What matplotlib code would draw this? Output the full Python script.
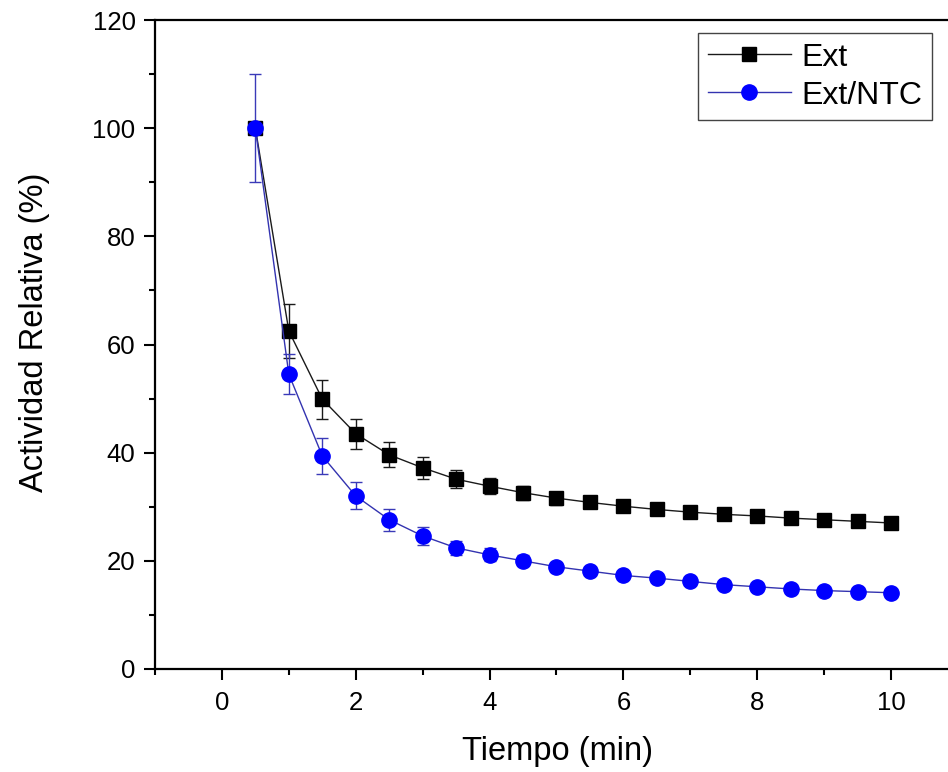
import matplotlib
matplotlib.use("Agg")
import matplotlib.pyplot as plt
from matplotlib.ticker import MultipleLocator
from matplotlib.lines import Line2D

plt.rcParams['font.family'] = ['Liberation Sans', 'DejaVu Sans']

tiempo = [0.5, 1.0, 1.5, 2.0, 2.5, 3.0, 3.5, 4.0, 4.5, 5.0, 5.5, 6.0, 6.5, 7.0,
          7.5, 8.0, 8.5, 9.0, 9.5, 10.0]
ext = [100.0, 62.5, 49.9, 43.5, 39.6, 37.2, 35.1, 33.8, 32.6, 31.6, 30.8, 30.1,
       29.5, 29.0, 28.6, 28.3, 27.9, 27.6, 27.3, 27.0]
ext_err = [0.0, 5.0, 3.6, 2.8, 2.3, 2.0, 1.7, 1.5, 1.3, 1.2, 1.0, 0.9,
           0.8, 0.7, 0.6, 0.6, 0.5, 0.5, 0.5, 0.5]
ntc = [100.0, 54.5, 39.4, 32.0, 27.6, 24.6, 22.4, 21.1, 20.0, 18.9, 18.1, 17.3,
       16.8, 16.2, 15.6, 15.2, 14.8, 14.5, 14.3, 14.1]
ntc_err = [10.0, 3.7, 3.3, 2.5, 2.0, 1.6, 1.3, 1.2, 1.0, 0.9, 0.8, 0.7,
           0.6, 0.6, 0.5, 0.5, 0.5, 0.5, 0.5, 0.5]

fig = plt.figure(figsize=(9.48, 7.72), dpi=100)
ax = fig.add_axes([155/948, 103/772, 803/948, 649/772])

ax.errorbar(tiempo, ext, yerr=ext_err, color='#1a1a1a', lw=1.0,
            marker='s', ms=10, mfc='black', mec='black',
            ecolor='#1a1a1a', elinewidth=1.0, capsize=4.5, capthick=1.0,
            zorder=3)
ax.errorbar(tiempo, ntc, yerr=ntc_err, color='#3333b0', lw=1.0,
            marker='o', ms=11, mfc='#0000ff', mec='#0000ff',
            ecolor='#3a3ab8', elinewidth=1.0, capsize=4.5, capthick=1.0,
            zorder=4)

ax.set_xlim(-1, 11)
ax.set_ylim(0, 120)
ax.xaxis.set_major_locator(MultipleLocator(2))
ax.xaxis.set_minor_locator(MultipleLocator(1))
ax.yaxis.set_major_locator(MultipleLocator(20))
ax.yaxis.set_minor_locator(MultipleLocator(10))

for s in ax.spines.values():
    s.set_linewidth(1.6)
ax.tick_params(which='major', direction='out', length=8, width=1.5,
               labelsize=18.5)
ax.tick_params(axis='x', which='major', pad=8)
ax.tick_params(axis='y', which='major', pad=6)
ax.tick_params(which='minor', direction='out', length=4.5, width=1.5)
ax.tick_params(top=False, right=False, which='both')

ax.set_xlabel('Tiempo (min)', fontsize=23.5)
ax.set_ylabel('Actividad Relativa (%)', fontsize=23.5)
ax.xaxis.set_label_coords((557 - 155) / 803, -(736 - 669) / 649)
ax.yaxis.set_label_coords(-(155 - 50) / 803, (669 - 332) / 649)

handles = [
    Line2D([], [], color='#1a1a1a', lw=1.0, marker='s', ms=10,
           mfc='black', mec='black'),
    Line2D([], [], color='#3333b0', lw=1.0, marker='o', ms=11,
           mfc='#0000ff', mec='#0000ff'),
]
leg = ax.legend(handles, ['Ext', 'Ext/NTC'], loc='upper left',
                bbox_to_anchor=(698/948, 1 - 33/772),
                bbox_transform=fig.transFigure, fontsize=23, frameon=True,
                fancybox=False, edgecolor='#444444', framealpha=1,
                handlelength=2.6, handletextpad=0.35, borderpad=0.3,
                labelspacing=0.25, borderaxespad=0)
leg.get_frame().set_linewidth(1.0)

fig.savefig('out.png', dpi=100)
